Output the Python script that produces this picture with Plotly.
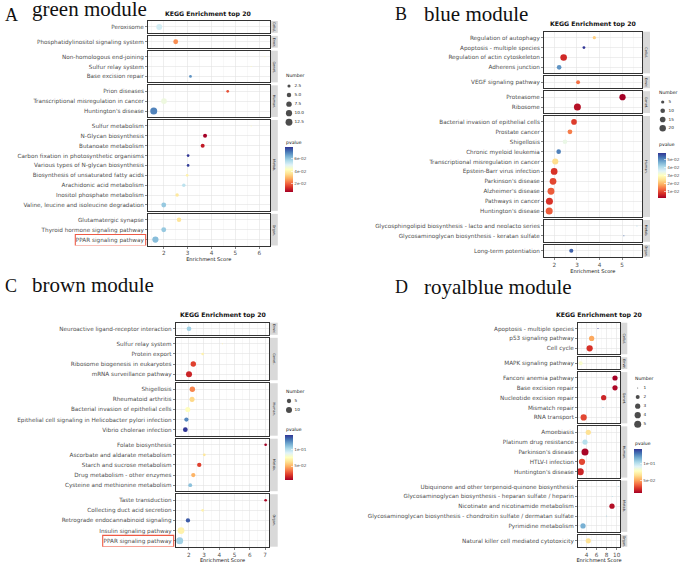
import math
import plotly.graph_objects as go

W, H = 685, 563

# ============================ DATA ============================
# ---- Panel A : green module ----
A_term = [
    "Peroxisome",
    "Phosphatidylinositol signaling system",
    "Non-homologous end-joining",
    "Sulfur relay system",
    "Base excision repair",
    "Prion diseases",
    "Transcriptional misregulation in cancer",
    "Huntington's disease",
    "Sulfur metabolism",
    "N-Glycan biosynthesis",
    "Butanoate metabolism",
    "Carbon fixation in photosynthetic organisms",
    "Various types of N-glycan biosynthesis",
    "Biosynthesis of unsaturated fatty acids",
    "Arachidonic acid metabolism",
    "Inositol phosphate metabolism",
    "Valine, leucine and isoleucine degradation",
    "Glutamatergic synapse",
    "Thyroid hormone signaling pathway",
    "PPAR signaling pathway",
]
A_class = ["Cellul.", "Envir.", "Genet.", "Genet.", "Genet.", "Human.", "Human.", "Human.",
           "Metab.", "Metab.", "Metab.", "Metab.", "Metab.", "Metab.", "Metab.", "Metab.", "Metab.",
           "Organ.", "Organ.", "Organ."]
A_score = [1.81, 2.50, 6.24, 5.66, 3.12, 4.68, 2.01, 1.58, 5.66, 3.73,
           3.63, 3.02, 3.02, 2.98, 2.84, 2.56, 2.00, 2.64, 2.00, 1.65]
A_count = [9, 6, 1, 1, 2, 2, 8, 13, 1, 4, 4, 2, 2, 2, 3, 3, 6, 5, 6, 10]
A_pvalue = [0.052, 0.025, 0.042, 0.042, 0.068, 0.018, 0.047, 0.070, 0.042, 0.007,
            0.011, 0.079, 0.078, 0.040, 0.055, 0.038, 0.060, 0.037, 0.060, 0.062]
A_size_breaks = [2.5, 5.0, 7.5, 10.0, 12.5]
A_size_labels = ["2.5", "5.0", "7.5", "10.0", "12.5"]
A_p_breaks = [0.02, 0.04, 0.06]
A_p_labels = ["2e-02", "4e-02", "6e-02"]

# ---- Panel B : blue module ----
B_term = [
    "Regulation of autophagy",
    "Apoptosis - multiple species",
    "Regulation of actin cytoskeleton",
    "Adherens junction",
    "VEGF signaling pathway",
    "Proteasome",
    "Ribosome",
    "Bacterial invasion of epithelial cells",
    "Prostate cancer",
    "Shigellosis",
    "Chronic myeloid leukemia",
    "Transcriptional misregulation in cancer",
    "Epstein-Barr virus infection",
    "Parkinson's disease",
    "Alzheimer's disease",
    "Pathways in cancer",
    "Huntington's disease",
    "Glycosphingolipid biosynthesis - lacto and neolacto series",
    "Glycosaminoglycan biosynthesis - keratan sulfate",
    "Long-term potentiation",
]
B_class = ["Cellul.", "Cellul.", "Cellul.", "Cellul.", "Envir.", "Genet.", "Genet.",
           "Human.", "Human.", "Human.", "Human.", "Human.", "Human.", "Human.", "Human.", "Human.", "Human.",
           "Metab.", "Metab.", "Organ."]
B_score = [3.77, 3.31, 2.41, 2.21, 3.05, 5.02, 3.02, 2.87, 2.69, 2.47,
           2.19, 2.04, 1.99, 1.94, 1.85, 1.78, 1.77, 5.66, 5.08, 2.75]
B_count = [5, 4, 21, 10, 7, 19, 24, 15, 11, 10, 10, 18, 22, 22, 23, 24, 24, 2, 2, 8]
B_pvalue = [0.022, 0.059, 0.006, 0.050, 0.013, 0.001, 0.003, 0.008, 0.014, 0.034,
            0.052, 0.024, 0.007, 0.009, 0.011, 0.007, 0.011, 0.042, 0.054, 0.055]
B_size_breaks = [5, 10, 15, 20]
B_size_labels = ["5", "10", "15", "20"]
B_p_breaks = [0.01, 0.02, 0.03, 0.04, 0.05]
B_p_labels = ["1e-02", "2e-02", "3e-02", "4e-02", "5e-02"]

# ---- Panel C : brown module ----
C_term = [
    "Neuroactive ligand-receptor interaction",
    "Sulfur relay system",
    "Protein export",
    "Ribosome biogenesis in eukaryotes",
    "mRNA surveillance pathway",
    "Shigellosis",
    "Rheumatoid arthritis",
    "Bacterial invasion of epithelial cells",
    "Epithelial cell signaling in Helicobacter pylori infection",
    "Vibrio cholerae infection",
    "Folate biosynthesis",
    "Ascorbate and aldarate metabolism",
    "Starch and sucrose metabolism",
    "Drug metabolism - other enzymes",
    "Cysteine and methionine metabolism",
    "Taste transduction",
    "Collecting duct acid secretion",
    "Retrograde endocannabinoid signaling",
    "Insulin signaling pathway",
    "PPAR signaling pathway",
]
C_class = ["Envir.", "Genet.", "Genet.", "Genet.", "Genet.",
           "Human.", "Human.", "Human.", "Human.", "Human.",
           "Metab.", "Metab.", "Metab.", "Metab.", "Metab.",
           "Organ.", "Organ.", "Organ.", "Organ.", "Organ."]
C_score = [2.02, 4.20, 2.91, 2.30, 2.02, 2.24, 2.22, 1.94, 1.85, 1.78,
           7.03, 3.02, 2.69, 2.30, 2.10, 7.03, 2.91, 1.95, 1.50, 1.41]
C_count = [6, 1, 2, 8, 10, 8, 7, 7, 5, 6, 2, 2, 5, 5, 4, 2, 2, 5, 13, 14]
C_pvalue = [0.105, 0.070, 0.070, 0.025, 0.018, 0.040, 0.060, 0.075, 0.125, 0.143,
            0.008, 0.065, 0.025, 0.050, 0.110, 0.010, 0.070, 0.135, 0.070, 0.105]
C_size_breaks = [5, 10]
C_size_labels = ["5", "10"]
C_p_breaks = [0.05, 0.10]
C_p_labels = ["5e-02", "1e-01"]

# ---- Panel D : royalblue module ----
D_term = [
    "Apoptosis - multiple species",
    "p53 signaling pathway",
    "Cell cycle",
    "MAPK signaling pathway",
    "Fanconi anemia pathway",
    "Base excision repair",
    "Nucleotide excision repair",
    "Mismatch repair",
    "RNA transport",
    "Amoebiasis",
    "Platinum drug resistance",
    "Parkinson's disease",
    "HTLV-I infection",
    "Huntington's disease",
    "Ubiquinone and other terpenoid-quinone biosynthesis",
    "Glycosaminoglycan biosynthesis - heparan sulfate / heparin",
    "Nicotinate and nicotinamide metabolism",
    "Glycosaminoglycan biosynthesis - chondroitin sulfate / dermatan sulfate",
    "Pyrimidine metabolism",
    "Natural killer cell mediated cytotoxicity",
]
D_class = ["Cellul.", "Cellul.", "Cellul.", "Envir.",
           "Genet.", "Genet.", "Genet.", "Genet.", "Genet.",
           "Human.", "Human.", "Human.", "Human.", "Human.",
           "Metab.", "Metab.", "Metab.", "Metab.", "Metab.", "Organ."]
D_score = [6.27, 5.00, 4.60, 2.80, 9.67, 9.67, 7.40, 7.27, 3.40, 4.33,
           3.67, 3.67, 3.07, 2.73, 10.33, 9.13, 9.07, 8.00, 3.27, 4.33]
D_count = [1, 3, 4, 2, 3, 3, 3, 1, 4, 3, 3, 5, 4, 5, 1, 1, 3, 1, 3, 3]
D_pvalue = [0.142, 0.050, 0.025, 0.080, 0.012, 0.014, 0.022, 0.110, 0.030, 0.065,
            0.100, 0.013, 0.030, 0.022, 0.100, 0.100, 0.016, 0.105, 0.115, 0.065]
D_size_breaks = [1, 2, 3, 4, 5]
D_size_labels = ["1", "2", "3", "4", "5"]
D_p_breaks = [0.05, 0.10]
D_p_labels = ["5e-02", "1e-01"]

PLOT_TITLE = "KEGG Enrichment top 20"
X_TITLE = "Enrichment Score"

# ============================ STYLE / LAYOUT ============================
RDYLBU = [
    [0.0, "rgb(165,0,38)"], [0.1, "rgb(215,48,39)"], [0.2, "rgb(244,109,67)"],
    [0.3, "rgb(253,174,97)"], [0.4, "rgb(254,224,144)"], [0.5, "rgb(255,255,191)"],
    [0.6, "rgb(224,243,248)"], [0.7, "rgb(171,217,233)"], [0.8, "rgb(116,173,209)"],
    [0.9, "rgb(69,117,180)"], [1.0, "rgb(49,54,149)"],
]
FONT = "DejaVu Sans"
SERIF = "Liberation Serif"
GRAY30 = "#4D4D4D"
BORDER = "#333333"
GRID_MAJ = "#E3E3E3"
GRID_MIN = "#F1F1F1"
STRIP = "#D9D9D9"
RED_BOX = "#EE5A45"
DMIN, DMAX = 1.0, 7.0

panels = [
    dict(term=A_term, cls=A_class, score=A_score, count=A_count, pv=A_pvalue,
         sb=A_size_breaks, sl=A_size_labels, pb=A_p_breaks, pl=A_p_labels,
         letter="A", name="green module", letter_xy=(3, 14.5), name_xy=(30, 9),
         px=(148, 269.5), top=21, bottom=245.5, xr=(1.34, 6.43), dtick=1,
         strip=(270.3, 277.8), title_xy=(208, 14.3),
         leg_title=(283.5, 76), leg_y=(86, 122.3), leg_dot=289, leg_lab=294.5,
         cb_x=285, cb_y=(147, 192), cb_title=(283.5, 142),
         box=(75.3, 145.7)),
    dict(term=B_term, cls=B_class, score=B_score, count=B_count, pv=B_pvalue,
         sb=B_size_breaks, sl=B_size_labels, pb=B_p_breaks, pl=B_p_labels,
         letter="B", name="blue module", letter_xy=(393, 14), name_xy=(421.5, 14),
         px=(544, 641.7), top=31.7, bottom=256.7, xr=(1.54, 5.87), dtick=1,
         strip=(642.4, 650), title_xy=(593.3, 24.3),
         leg_title=(657, 92.3), leg_y=(102, 128.3), leg_dot=662.7, leg_lab=668.5,
         cb_x=658, cb_y=(153, 198), cb_title=(657, 145),
         box=None),
    dict(term=C_term, cls=C_class, score=C_score, count=C_count, pv=C_pvalue,
         sb=C_size_breaks, sl=C_size_labels, pb=C_p_breaks, pl=C_p_labels,
         letter="C", name="brown module", letter_xy=(3, 286), name_xy=(30, 285),
         px=(175.7, 269.3), top=322.7, bottom=546.7, xr=(1.15, 7.27), dtick=1,
         strip=(270, 277.7), title_xy=(222.5, 314.7),
         leg_title=(283.5, 391), leg_y=(401, 410), leg_dot=289, leg_lab=294.5,
         cb_x=285, cb_y=(435, 480), cb_title=(283.5, 430),
         box=(102.7, 173.7)),
    dict(term=D_term, cls=D_class, score=D_score, count=D_count, pv=D_pvalue,
         sb=D_size_breaks, sl=D_size_labels, pb=D_p_breaks, pl=D_p_labels,
         letter="D", name="royalblue module", letter_xy=(393, 287), name_xy=(421.5, 287),
         px=(578, 620), top=322.7, bottom=546.7, xr=(2.27, 10.67), dtick=2,
         strip=(620.7, 627.3), title_xy=(599.3, 314.7),
         leg_title=(632.5, 378), leg_y=(388, 424.3), leg_dot=637.7, leg_lab=643.5,
         cb_x=634, cb_y=(449, 493.3), cb_title=(632.5, 443),
         box=None),
]


def fx(p):
    return min(1.0, max(0.0, p / W))


def fy(p):
    return min(1.0, max(0.0, 1 - p / H))


def diam(n, nmin, nmax):
    return DMIN + (DMAX - DMIN) * math.sqrt(max(0.0, (n - nmin) / (nmax - nmin)))


def note(x, y, text, size, family=FONT, color="#111", xanchor="left", angle=0):
    return dict(x=fx(x), y=fy(y), xref="paper", yref="paper", text=text, showarrow=False,
                xanchor=xanchor, yanchor="middle", textangle=angle,
                font=dict(family=family, size=size, color=color))


fig = go.Figure()
layout = {}
shapes = []
annotations = []
GAP = 3.0
idx = 0

for k, P in enumerate(panels):
    cax = "coloraxis" if k == 0 else f"coloraxis{k + 1}"
    nmin, nmax = min(P["count"]), max(P["count"])
    groups = []
    for t, c, s, n, pv in zip(P["term"], P["cls"], P["score"], P["count"], P["pv"]):
        if not groups or groups[-1][0] != c:
            groups.append((c, []))
        groups[-1][1].append((t, s, n, pv))
    units = sum(len(g[1]) + 0.2 for g in groups)
    u = (P["bottom"] - P["top"] - GAP * (len(groups) - 1)) / units
    y_cur = P["top"]
    for gi, (cname, rows) in enumerate(groups):
        idx += 1
        xa = "xaxis" if idx == 1 else f"xaxis{idx}"
        ya = "yaxis" if idx == 1 else f"yaxis{idx}"
        xr_ = "x" if idx == 1 else f"x{idx}"
        yr_ = "y" if idx == 1 else f"y{idx}"
        n = len(rows)
        y0 = y_cur
        y1 = y_cur + (n + 0.2) * u
        y_cur = y1 + GAP
        last = gi == len(groups) - 1
        layout[xa] = dict(
            domain=[fx(P["px"][0]), fx(P["px"][1])], range=list(P["xr"]), anchor=yr_,
            showline=True, mirror=True, linecolor=BORDER, linewidth=1,
            showgrid=True, gridcolor=GRID_MAJ, gridwidth=0.6, zeroline=False,
            tick0=0, dtick=P["dtick"],
            minor=dict(dtick=P["dtick"] / 2, tick0=0, showgrid=True, gridcolor=GRID_MIN,
                       gridwidth=0.5, ticks=""),
            showticklabels=last, ticks="outside" if last else "", ticklen=2,
            tickcolor=BORDER, tickwidth=0.6,
            tickfont=dict(family=FONT, size=5.7, color=GRAY30),
            title=dict(text=X_TITLE if last else "", font=dict(family=FONT, size=5.1, color="#111"),
                       standoff=1),
            fixedrange=True,
        )
        terms = [r[0] for r in rows]
        layout[ya] = dict(
            domain=[fy(y1), fy(y0)], type="category", categoryorder="array",
            categoryarray=terms[::-1], range=[-0.6, n - 0.4], anchor=xr_,
            showline=True, mirror=True, linecolor=BORDER, linewidth=1,
            showgrid=True, gridcolor=GRID_MAJ, gridwidth=0.6, zeroline=False,
            tickmode="linear", tick0=0, dtick=1,
            ticks="outside", ticklen=2, tickcolor=BORDER, tickwidth=0.6,
            tickfont=dict(family=FONT, size=5.7, color=GRAY30), fixedrange=True,
        )
        fig.add_trace(go.Scatter(
            x=[r[1] for r in rows], y=terms, mode="markers", xaxis=xr_, yaxis=yr_,
            marker=dict(size=[diam(r[2], nmin, nmax) for r in rows],
                        color=[r[3] for r in rows], coloraxis=cax, line=dict(width=0),
                        opacity=1),
            showlegend=False, hoverinfo="skip"))
        shapes.append(dict(type="rect", xref="paper", yref="paper",
                           x0=fx(P["strip"][0]), x1=fx(P["strip"][1]), y0=fy(y1), y1=fy(y0),
                           fillcolor=STRIP, line=dict(width=0), layer="below"))
        annotations.append(note((P["strip"][0] + P["strip"][1]) / 2, (y0 + y1) / 2, cname, 3.4,
                                color="#1A1A1A", xanchor="center", angle=90))
        if last and P["box"] is not None:
            shapes.append(dict(type="rect", xref="paper", yref=yr_,
                               x0=fx(P["box"][0]), x1=fx(P["box"][1]), y0=-0.62, y1=0.52,
                               line=dict(color=RED_BOX, width=1.1), fillcolor="rgba(0,0,0,0)"))

    layout[cax] = dict(
        colorscale=RDYLBU, cmin=min(P["pv"]), cmax=max(P["pv"]),
        colorbar=dict(x=fx(P["cb_x"]), xanchor="left", y=fy(P["cb_y"][0]), yanchor="top",
                      len=P["cb_y"][1] - P["cb_y"][0], lenmode="pixels",
                      thickness=8, thicknessmode="pixels", xpad=0, ypad=0, outlinewidth=0,
                      tickmode="array", tickvals=P["pb"], ticktext=P["pl"],
                      ticks="inside", tickcolor="white", ticklen=2, tickwidth=0.6,
                      tickfont=dict(family=FONT, size=4.2, color=GRAY30),
                      title=dict(text="")))
    annotations.append(note(P["cb_title"][0], P["cb_title"][1], "pvalue", 4.6))

    # size legend on a hidden axis pair
    idx += 1
    xa = f"xaxis{idx}"
    ya = f"yaxis{idx}"
    nb = len(P["sb"])
    first, lastv = P["leg_y"]
    step = (lastv - first) / (nb - 1)
    d0 = P["leg_dot"]
    right = min(20.0, W - d0)
    layout[xa] = dict(domain=[fx(d0 - 6), fx(d0 + right)], range=[-6, right], visible=False,
                      anchor=f"y{idx}", fixedrange=True)
    layout[ya] = dict(domain=[fy(lastv + step / 2), fy(first - step / 2)],
                      range=[nb - 0.5, -0.5], visible=False, anchor=f"x{idx}", fixedrange=True)
    fig.add_trace(go.Scatter(
        x=[0] * nb, y=list(range(nb)), mode="markers", xaxis=f"x{idx}", yaxis=f"y{idx}",
        marker=dict(size=[diam(b, nmin, nmax) for b in P["sb"]], color="black", line=dict(width=0)),
        showlegend=False, hoverinfo="skip", cliponaxis=False))
    fig.add_trace(go.Scatter(
        x=[P["leg_lab"] - d0] * nb, y=list(range(nb)), mode="text", text=P["sl"],
        textposition="middle right", xaxis=f"x{idx}", yaxis=f"y{idx}", cliponaxis=False,
        textfont=dict(family=FONT, size=4.2, color="#222"), showlegend=False, hoverinfo="skip"))
    annotations.append(note(P["leg_title"][0], P["leg_title"][1], "Number", 4.6))

    annotations.append(note(P["title_xy"][0], P["title_xy"][1], "<b>" + PLOT_TITLE + "</b>", 6.2,
                            xanchor="center"))
    annotations.append(note(P["letter_xy"][0], P["letter_xy"][1], P["letter"], 18, family=SERIF))
    annotations.append(note(P["name_xy"][0], P["name_xy"][1], P["name"], 21, family=SERIF))

fig.update_layout(
    width=W, height=H, margin=dict(l=0, r=0, t=0, b=0),
    paper_bgcolor="white", plot_bgcolor="white", showlegend=False, hovermode=False,
    shapes=shapes, annotations=annotations, **layout)

fig.write_html("out.html", config={"displayModeBar": False, "staticPlot": True},
               post_script="document.body.style.margin='0px';document.body.style.overflow='hidden';")
